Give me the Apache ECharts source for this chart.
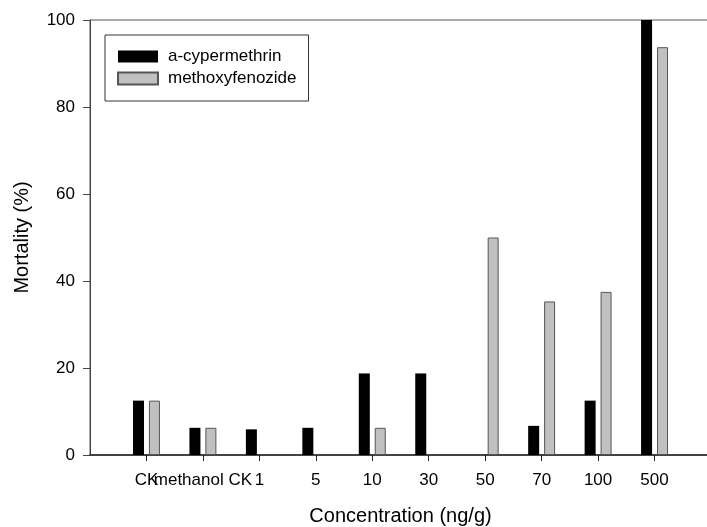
<!DOCTYPE html>
<html>
<head>
<meta charset="utf-8">
<script src="https://cdn.jsdelivr.net/npm/echarts@6/dist/echarts.min.js"></script>
<style>
html,body{margin:0;padding:0;background:#fff;}
#chart{width:707px;height:527px;}
</style>
</head>
<body>
<div id="chart"></div>
<script>
var categories = ['CK', 'methanol CK', '1', '5', '10', '30', '50', '70', '100', '500'];
var cypermethrin = [12.5, 6.25, 5.9, 6.25, 18.75, 18.75, 0, 6.7, 12.5, 100];
var methoxyfenozide = [12.5, 6.25, 0, 0, 6.25, 0, 50, 35.3, 37.5, 93.75];
var yTicks = [0, 20, 40, 60, 80, 100];

var axisCats = [''].concat(categories, ['']);
function pad(arr) { return [null].concat(arr.map(function (v) { return v === 0 ? null : v; }), [null]); }

var FONT = 'Liberation Sans, Arial, sans-serif';
var chart = echarts.init(document.getElementById('chart'), null, {renderer: 'canvas'});
chart.setOption({
  animation: false,
  backgroundColor: '#ffffff',
  grid: {left: 90, top: 20, width: 621, height: 435, outerBoundsMode: 'none', containLabel: false,
         show: true, borderColor: '#555', borderWidth: 1, backgroundColor: 'transparent'},
  legend: {
    orient: 'vertical', left: 105, top: 35,
    itemWidth: 40, itemHeight: 12, itemGap: 5,
    padding: [13, 12, 14, 12],
    borderColor: '#333', borderWidth: 1,
    icon: 'rect',
    textStyle: {fontFamily: FONT, fontSize: 17, color: '#000', padding: [0, 0, 0, 5]},
    data: ['a-cypermethrin', 'methoxyfenozide']
  },
  xAxis: {
    type: 'category',
    data: axisCats,
    boundaryGap: false,
    name: 'Concentration (ng/g)',
    nameLocation: 'middle',
    nameGap: 51,
    nameTextStyle: {fontFamily: FONT, fontSize: 20, color: '#000'},
    axisLine: {lineStyle: {color: '#222', width: 1.5}},
    axisTick: {length: 6, lineStyle: {color: '#222'}, interval: function (i) { return i > 0 && i < axisCats.length - 1; }},
    axisLabel: {interval: 0, hideOverlap: false, margin: 17, fontFamily: FONT, fontSize: 17, color: '#000'},
    splitLine: {show: false}
  },
  yAxis: {
    type: 'value',
    min: yTicks[0], max: yTicks[yTicks.length - 1], interval: yTicks[1] - yTicks[0],
    name: 'Mortality (%)',
    nameLocation: 'middle',
    nameGap: 58,
    nameTextStyle: {fontFamily: FONT, fontSize: 20, color: '#000'},
    axisLine: {show: true, lineStyle: {color: '#444', width: 1}},
    axisTick: {show: true, length: 7, lineStyle: {color: '#444'}},
    axisLabel: {margin: 15, fontFamily: FONT, fontSize: 17, color: '#000'},
    splitLine: {show: false}
  },
  series: [
    {name: 'a-cypermethrin', type: 'bar', data: pad(cypermethrin), barWidth: 11, barGap: '45%',
     itemStyle: {color: '#000000', borderColor: '#000', borderWidth: 0}},
    {name: 'methoxyfenozide', type: 'bar', data: pad(methoxyfenozide), barWidth: 11, barGap: '45%',
     itemStyle: {color: '#c0c0c0', borderColor: '#555', borderWidth: 1}}
  ]
});
</script>
</body>
</html>
